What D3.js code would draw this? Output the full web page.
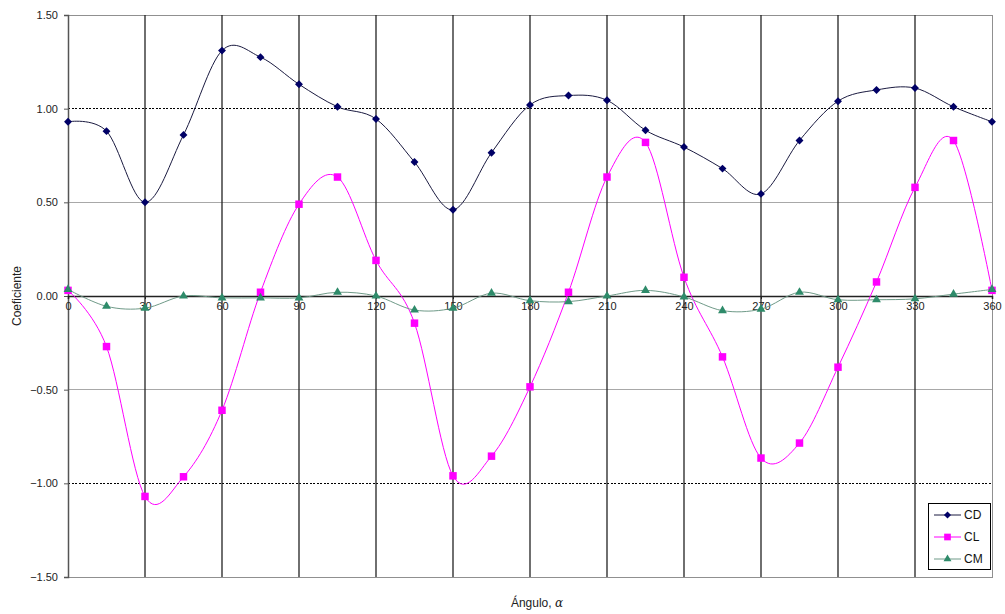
<!DOCTYPE html>
<html><head><meta charset="utf-8">
<script src="https://cdn.jsdelivr.net/npm/d3@7"></script>
<style>
html,body{margin:0;padding:0;background:#fff;}
svg{display:block;font-family:"Liberation Sans",Arial,sans-serif;}
</style></head>
<body>
<script>
const angles = [0,15,30,45,60,75,90,105,120,135,150,165,180,195,210,225,240,255,270,285,300,315,330,345,360];
const cdValues = [0.93,0.88,0.50,0.86,1.31,1.275,1.13,1.01,0.945,0.715,0.46,0.765,1.02,1.07,1.045,0.885,0.795,0.68,0.545,0.83,1.04,1.10,1.11,1.01,0.93];
const clValues = [0.03,-0.27,-1.07,-0.965,-0.61,0.02,0.49,0.635,0.19,-0.145,-0.96,-0.855,-0.485,0.02,0.635,0.82,0.10,-0.325,-0.865,-0.785,-0.38,0.075,0.58,0.83,0.03];
const cmValues = [0.035,-0.055,-0.065,0.00,-0.01,-0.01,-0.01,0.02,0.00,-0.075,-0.065,0.015,-0.025,-0.03,0.00,0.03,-0.005,-0.078,-0.07,0.02,-0.02,-0.02,-0.015,0.01,0.035];
const xTicks = [0,30,60,90,120,150,180,210,240,270,300,330,360];
const yTicks = [-1.5,-1.0,-0.5,0,0.5,1.0,1.5];
const seriesNames = ["CD","CL","CM"];

const W = 1005, H = 614;
const L = 68, R = 992, T = 15, B = 577;
const svg = d3.select("body").append("svg").attr("width", W).attr("height", H);
const x = d3.scaleLinear().domain([0,360]).range([L,R]);
const y = d3.scaleLinear().domain([-1.5,1.5]).range([B,T]);

// horizontal gridlines
yTicks.forEach(v => {
  if (v === 0) return;
  const dotted = Math.abs(Math.abs(v) - 1) < 1e-9;
  svg.append("line").attr("x1", L).attr("x2", R).attr("y1", y(v)).attr("y2", y(v))
    .attr("stroke", dotted ? "#000" : "#a8a8a8").attr("stroke-width", 1)
    .attr("stroke-dasharray", dotted ? "2,1.5" : null).attr("shape-rendering","crispEdges");
});
// plot border
svg.append("rect").attr("x", L).attr("y", T).attr("width", R-L).attr("height", B-T)
  .attr("fill","none").attr("stroke","#909090").attr("stroke-width",1).attr("shape-rendering","crispEdges");
// vertical gridlines
xTicks.forEach(v => {
  if (v === 0 || v === 360) return;
  svg.append("line").attr("x1", x(v)).attr("x2", x(v)).attr("y1", T).attr("y2", B)
    .attr("stroke","#222").attr("stroke-width",1.3);
});

// y axis
const yAxis = svg.append("g").attr("transform", `translate(${L},0)`)
  .call(d3.axisLeft(y).tickValues(yTicks).tickFormat(d3.format(".2f")).tickSize(4).tickPadding(6));
yAxis.select(".domain").attr("stroke","#555").attr("stroke-width",1.5);
yAxis.selectAll(".tick line").attr("stroke","#555");
yAxis.selectAll("text").attr("font-size","11px").attr("fill","#222").attr("font-family","Liberation Sans, Arial, sans-serif");

// x axis at zero
const xAxis = svg.append("g").attr("transform", `translate(0,${y(0)})`)
  .call(d3.axisBottom(x).tickValues(xTicks).tickFormat(d3.format("d")).tickSize(3).tickPadding(3));
xAxis.select(".domain").attr("stroke","#222").attr("stroke-width",1.5);
xAxis.selectAll(".tick line").attr("stroke","#222");
xAxis.selectAll("text").attr("font-size","11px").attr("fill","#222").attr("font-family","Liberation Sans, Arial, sans-serif");

// series
const series = [
  {name:"CD", values: cdValues, line:"#1a1a40", fill:"#000066", marker:"diamond"},
  {name:"CL", values: clValues, line:"#ff00ff", fill:"#ff00ff", marker:"square"},
  {name:"CM", values: cmValues, line:"#6f9a88", fill:"#2e8b6a", marker:"triangle"}
];
const lineGen = d3.line().x((d,i)=>x(angles[i])).y(d=>y(d)).curve(d3.curveCardinal.tension(0));
const symType = {diamond: d3.symbolDiamond2, square: d3.symbolSquare, triangle: d3.symbolTriangle};
const symSize = {diamond: 40, square: 56, triangle: 34};

series.forEach(s => {
  svg.append("path").datum(s.values).attr("d", lineGen).attr("fill","none")
    .attr("stroke", s.line).attr("stroke-width", 1);
});
series.forEach(s => {
  svg.append("g").selectAll("path").data(s.values).join("path")
    .attr("transform",(d,i)=>`translate(${x(angles[i])},${y(d)})`)
    .attr("d", d3.symbol().type(symType[s.marker]).size(symSize[s.marker]))
    .attr("fill", s.fill);
});

// legend
const lg = svg.append("g");
lg.append("rect").attr("x",928.5).attr("y",503.5).attr("width",62).attr("height",66)
  .attr("fill","#fff").attr("stroke","#000").attr("stroke-width",1);
series.forEach((s,i) => {
  const yy = 515 + i*22;
  lg.append("line").attr("x1",934).attr("x2",961).attr("y1",yy).attr("y2",yy).attr("stroke",s.line).attr("stroke-width",1);
  lg.append("path").attr("transform",`translate(947.5,${yy})`)
    .attr("d", d3.symbol().type(symType[s.marker]).size(symSize[s.marker]*0.8)).attr("fill", s.fill);
  lg.append("text").attr("x",964).attr("y",yy+4).attr("font-size","12px").attr("fill","#111").text(seriesNames[i]);
});

// axis titles
svg.append("text").attr("transform",`translate(21,${(T+B)/2}) rotate(-90)`).attr("text-anchor","middle")
  .attr("font-size","12px").attr("fill","#222").text("Coeficiente");
const xt = svg.append("text").attr("x", 537).attr("y", 607).attr("text-anchor","middle").attr("font-size","12px").attr("fill","#222");
xt.append("tspan").text("Ángulo, ");
xt.append("tspan").attr("font-style","italic").attr("font-family","DejaVu Serif, serif").text("α");
</script>
</body></html>
